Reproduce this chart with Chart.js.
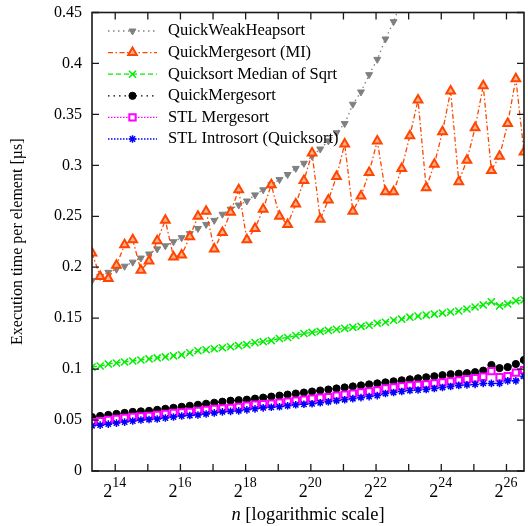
<!DOCTYPE html>
<html><head><meta charset="utf-8">
<script src="https://cdn.jsdelivr.net/npm/chart.js@4.4.0/dist/chart.umd.min.js"></script>
<style>html,body{margin:0;padding:0;background:#fff;}canvas{display:block;}</style>
</head><body>
<canvas id="c" width="528" height="526"></canvas>
<script>
// n values (x), 2^(1/4) steps from 10000
const nValues = [10000, 11892, 14142, 16818, 20000, 23784, 28284, 33636, 40000, 47568, 56569, 67272,
  80000, 95137, 113137, 134543, 160000, 190273, 226274, 269087, 320000, 380546, 452548, 538174,
  640000, 761093, 905097, 1076347, 1280000, 1522185, 1810193, 2152695, 2560000, 3044370, 3620387, 4305390,
  5120000, 6088741, 7240774, 8610780, 10240000, 12177482, 14481547, 17221559, 20480000, 24354963, 28963094, 34443118,
  40960000, 48709927, 57926189, 68886237, 81920000, 97419854];
const xTickExponents = [14, 16, 18, 20, 22, 24, 26];
const xMinorExponents = [14, 15, 16, 17, 18, 19, 20, 21, 22, 23, 24, 25, 26];
const seriesLabels = ['QuickWeakHeapsort', 'QuickMergesort (MI)', 'Quicksort Median of Sqrt', 'QuickMergesort', 'STL Mergesort', 'STL Introsort (Quicksort)'];

const quickWeakHeapsort = [0.187,0.191,0.195,0.198,0.201,0.205,0.209,0.213,0.218,0.221,0.225,0.229,0.233,0.238,0.242,0.246,0.252,0.257,0.261,0.265,0.271,0.276,0.281,0.286,0.291,0.297,0.302,0.309,0.316,0.324,0.332,0.341,0.360,0.372,0.389,0.404,0.424,0.441,0.462];
const quickMergesortMI = [0.214,0.191,0.189,0.202,0.222,0.227,0.197,0.206,0.226,0.246,0.210,0.212,0.230,0.250,0.255,0.218,0.234,0.254,0.276,0.227,0.238,0.257,0.281,0.250,0.242,0.262,0.285,0.312,0.247,0.266,0.289,0.321,0.255,0.270,0.293,0.324,0.274,0.274,0.297,0.329,0.364,0.278,0.301,0.333,0.373,0.284,0.305,0.337,0.378,0.295,0.309,0.341,0.385,0.313];
const quicksortMedianSqrt = [0.102,0.103,0.105,0.106,0.107,0.108,0.109,0.110,0.111,0.112,0.113,0.114,0.116,0.118,0.119,0.120,0.121,0.122,0.123,0.124,0.126,0.127,0.128,0.130,0.131,0.133,0.135,0.136,0.137,0.138,0.139,0.140,0.141,0.142,0.143,0.145,0.146,0.148,0.149,0.151,0.152,0.153,0.154,0.155,0.156,0.157,0.159,0.161,0.163,0.166,0.162,0.164,0.167,0.168];
const quickMergesort = [0.053,0.054,0.055,0.056,0.057,0.058,0.0585,0.059,0.060,0.061,0.062,0.063,0.064,0.065,0.066,0.067,0.068,0.069,0.0695,0.070,0.071,0.072,0.073,0.074,0.075,0.076,0.077,0.078,0.079,0.080,0.081,0.082,0.083,0.084,0.085,0.086,0.087,0.088,0.089,0.090,0.091,0.092,0.093,0.094,0.095,0.0955,0.096,0.097,0.0985,0.104,0.101,0.102,0.105,0.109];
const stlMergesort = [0.048,0.049,0.050,0.051,0.052,0.053,0.0535,0.054,0.055,0.056,0.057,0.0575,0.058,0.059,0.060,0.061,0.0615,0.062,0.063,0.064,0.065,0.0655,0.066,0.067,0.068,0.069,0.070,0.071,0.072,0.0725,0.074,0.075,0.076,0.077,0.078,0.079,0.081,0.082,0.083,0.084,0.0845,0.085,0.086,0.087,0.088,0.089,0.090,0.091,0.0925,0.098,0.092,0.093,0.0965,0.099];
const stlIntrosort = [0.0445,0.045,0.046,0.047,0.048,0.049,0.050,0.0505,0.051,0.052,0.053,0.054,0.0545,0.055,0.056,0.057,0.058,0.0585,0.059,0.060,0.061,0.062,0.0625,0.063,0.064,0.065,0.0655,0.066,0.067,0.068,0.069,0.070,0.071,0.072,0.073,0.074,0.076,0.077,0.078,0.079,0.0795,0.080,0.081,0.082,0.083,0.084,0.0845,0.085,0.086,0.086,0.086,0.0885,0.0885,0.093];

const FONT = "'Liberation Serif', 'Times New Roman', serif";
const pts = arr => arr.map((v, i) => ({x: nValues[i], y: v}));

const styles = [
  {color:'#808080', fill:'#808080', dash:[1.5,3.5], pointStyle:'triangle', rotation:180, radius:4, pbw:1, order:6},
  {color:'#ff4500', fill:'#ffb08a', dash:[5,2.5,1.5,2.5], pointStyle:'triangle', rotation:0, radius:5, pbw:2, order:5},
  {color:'#00ee00', fill:'#00ee00', dash:[5,3], pointStyle:'crossRot', rotation:0, radius:5, pbw:1.5, order:4},
  {color:'#000000', fill:'#000000', dash:[1.5,4], pointStyle:'circle', rotation:0, radius:3.6, pbw:1, order:3},
  {color:'#ff00ff', fill:'#ffffff', dash:[1.5,1.5], pointStyle:'rect', rotation:0, radius:4.5, pbw:2, order:2},
  {color:'#0000ff', fill:'#0000ff', dash:[1.5,1.5], pointStyle:'star', rotation:0, radius:3.8, pbw:1.5, order:1}
];
const seriesData = [quickWeakHeapsort, quickMergesortMI, quicksortMedianSqrt, quickMergesort, stlMergesort, stlIntrosort];

const datasets = seriesData.map((arr, i) => ({
  label: seriesLabels[i],
  data: pts(arr),
  borderColor: styles[i].color,
  backgroundColor: styles[i].fill,
  borderWidth: 1.3,
  borderDash: styles[i].dash,
  pointStyle: styles[i].pointStyle,
  rotation: styles[i].rotation,
  pointRadius: styles[i].radius,
  pointBorderWidth: styles[i].pbw,
  pointBorderColor: styles[i].color,
  pointBackgroundColor: styles[i].fill,
  tension: 0,
  order: styles[i].order
}));

const decorPlugin = {
  id: 'decor',
  afterDraw(chart) {
    const ctx = chart.ctx, a = chart.chartArea;
    const xs = chart.scales.x, ys = chart.scales.y;
    ctx.save();
    // frame
    ctx.setLineDash([]);
    ctx.strokeStyle = '#1a1a1a';
    ctx.lineWidth = 1.6;
    ctx.strokeRect(a.left, a.top, a.right - a.left, a.bottom - a.top);
    // inward ticks
    ctx.lineWidth = 1.3;
    ys.ticks.forEach(t => {
      const py = ys.getPixelForValue(t.value);
      ctx.beginPath();
      ctx.moveTo(a.left, py); ctx.lineTo(a.left + 7, py);
      ctx.moveTo(a.right, py); ctx.lineTo(a.right - 7, py);
      ctx.stroke();
    });
    xMinorExponents.forEach(e => {
      const px = xs.getPixelForValue(Math.pow(2, e));
      ctx.beginPath();
      ctx.moveTo(px, a.bottom); ctx.lineTo(px, a.bottom - 7);
      ctx.moveTo(px, a.top); ctx.lineTo(px, a.top + 7);
      ctx.stroke();
    });
    // x tick labels 2^e
    ctx.fillStyle = '#000';
    ctx.textBaseline = 'alphabetic';
    ctx.textAlign = 'left';
    xTickExponents.forEach(e => {
      const px = xs.getPixelForValue(Math.pow(2, e));
      ctx.font = '18px ' + FONT;
      const w2 = ctx.measureText('2').width;
      ctx.font = '14px ' + FONT;
      const we = ctx.measureText(String(e)).width;
      const start = px - (w2 + we) / 2 - 0.5;
      ctx.font = '18px ' + FONT;
      ctx.fillText('2', start, 497);
      ctx.font = '14px ' + FONT;
      ctx.fillText(String(e), start + w2, 487);
    });
    // x title
    ctx.font = 'italic 18.5px ' + FONT;
    const wn = ctx.measureText('n').width;
    ctx.font = '18.5px ' + FONT;
    const rest = ' [logarithmic scale]';
    const wr = ctx.measureText(rest).width;
    const cx = (a.left + a.right) / 2;
    const sx = cx - (wn + wr) / 2;
    ctx.font = 'italic 18.5px ' + FONT;
    ctx.fillText('n', sx, 520);
    ctx.font = '18.5px ' + FONT;
    ctx.fillText(rest, sx + wn, 520);
    // legend
    chart.data.datasets.forEach((ds, i) => {
      const st = styles[i];
      const y = 31 + i * 21.6;
      ctx.strokeStyle = st.color;
      ctx.lineWidth = 1.3;
      ctx.setLineDash(st.dash);
      ctx.beginPath();
      ctx.moveTo(108, y); ctx.lineTo(157, y);
      ctx.stroke();
      ctx.setLineDash([]);
      ctx.fillStyle = st.fill;
      ctx.lineWidth = st.pbw;
      Chart.helpers.drawPoint(ctx, {pointStyle: st.pointStyle, rotation: st.rotation, radius: st.radius, borderWidth: st.pbw}, 132.5, y);
      ctx.fillStyle = '#000';
      ctx.font = '16.5px ' + FONT;
      ctx.textBaseline = 'middle';
      ctx.fillText(ds.label, 168, y);
    });
    ctx.restore();
  }
};

new Chart(document.getElementById('c'), {
  type: 'line',
  data: { datasets },
  options: {
    responsive: false,
    devicePixelRatio: 1,
    animation: false,
    events: [],
    layout: { autoPadding: false, padding: { top: 12.5, right: 4, left: 0, bottom: 0 } },
    plugins: { legend: { display: false }, tooltip: { enabled: false } },
    scales: {
      x: {
        type: 'logarithmic',
        min: nValues[0],
        max: nValues[nValues.length - 1],
        grid: { display: false, drawTicks: false },
        border: { display: false },
        ticks: { display: false },
        afterBuildTicks: s => { s.ticks = xMinorExponents.map(e => ({ value: Math.pow(2, e) })); },
        afterFit: s => { s.height = 55; s.paddingLeft = 0; s.paddingRight = 0; s.paddingTop = 0; s.paddingBottom = 0; }
      },
      y: {
        type: 'linear',
        min: 0, max: 0.45,
        grid: { display: false, drawTicks: false },
        border: { display: false },
        ticks: { stepSize: 0.05, padding: 10, color: '#000', font: { family: FONT, size: 16 },
                 callback: v => String(Math.round(v * 100) / 100) },
        title: { display: true, text: 'Execution time per element [µs]', color: '#000', font: { family: FONT, size: 16 }, padding: { top: 8, bottom: 0 } },
        afterFit: s => { s.width = 92; s.paddingLeft = 0; s.paddingRight = 0; s.paddingTop = 0; s.paddingBottom = 0; }
      }
    }
  },
  plugins: [decorPlugin]
});
</script>
</body></html>
